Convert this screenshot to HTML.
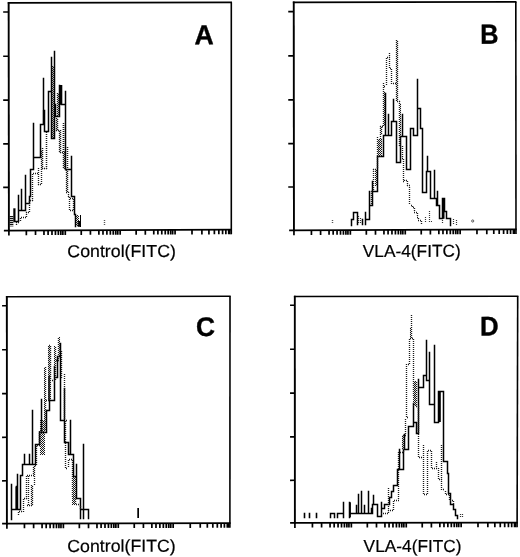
<!DOCTYPE html>
<html><head><meta charset="utf-8"><title>Figure</title>
<style>
html,body{margin:0;padding:0;background:#fff;}
body{width:520px;height:557px;overflow:hidden;font-family:"Liberation Sans",sans-serif;}
svg{display:block;filter:blur(0.3px);}
text{font-family:"Liberation Sans",sans-serif;fill:#111;text-rendering:geometricPrecision;}
.lab{font-size:17.3px;fill:#000;stroke:#000;stroke-width:0.2px;}
.pl{font-size:26px;font-weight:bold;fill:#000;stroke:#000;stroke-width:0.35px;}
</style></head><body>
<svg width="520" height="557" viewBox="0 0 520 557">
<defs>
<pattern id="hx" width="2" height="2" patternUnits="userSpaceOnUse"><rect x="0" y="0" width="1" height="1" fill="#444"/><rect x="1" y="1" width="1" height="1" fill="#444"/></pattern>
<pattern id="hs" width="2" height="2" patternUnits="userSpaceOnUse"><rect x="0" y="0" width="2" height="1.25" fill="#111"/></pattern>
</defs>
<rect width="520" height="557" fill="#fff"/>
<line x1="8.65" y1="2.15" x2="8.9" y2="231.35" stroke="#000" stroke-width="1.9"/>
<line x1="7.75" y1="2.9" x2="232.0" y2="2.3" stroke="#000" stroke-width="1.8"/>
<line x1="231.3" y1="2.3" x2="231.3" y2="234.29999999999998" stroke="#000" stroke-width="1.6"/>
<line x1="3.9000000000000004" y1="230.52" x2="232.0" y2="229.6" stroke="#000" stroke-width="1.75"/>
<line x1="3.1750000000000007" y1="11.969999999999999" x2="8.775" y2="11.95" stroke="#000" stroke-width="1.65"/>
<line x1="3.1750000000000007" y1="56.220000000000006" x2="8.775" y2="56.2" stroke="#000" stroke-width="1.65"/>
<line x1="3.1750000000000007" y1="100.11999999999999" x2="8.775" y2="100.1" stroke="#000" stroke-width="1.65"/>
<line x1="3.1750000000000007" y1="143.92000000000002" x2="8.775" y2="143.9" stroke="#000" stroke-width="1.65"/>
<line x1="3.1750000000000007" y1="187.32000000000002" x2="8.775" y2="187.3" stroke="#000" stroke-width="1.65"/>
<path d="M8.90,230.50v5.0 M26.35,230.43v4.7 M35.52,230.39v4.7 M43.97,230.36v4.7 M48.09,230.34v4.7 M51.99,230.33v4.7 M55.45,230.31v4.7 M58.36,230.30v4.7 M60.83,230.29v4.7 M62.86,230.28v4.7 M65.28,230.27v4.7 M81.25,230.21v4.7 M90.42,230.17v4.7 M98.87,230.14v4.7 M102.99,230.12v4.7 M106.89,230.10v4.7 M110.35,230.09v4.7 M113.26,230.08v4.7 M115.73,230.07v4.7 M117.76,230.06v4.7 M120.17,230.05v4.7 M136.15,229.98v4.7 M145.32,229.95v4.7 M153.77,229.91v4.7 M157.89,229.90v4.7 M161.79,229.88v4.7 M165.25,229.87v4.7 M168.16,229.86v4.7 M170.63,229.85v4.7 M172.66,229.84v4.7 M175.07,229.83v4.7 M192.00,229.76v4.7 M201.90,229.72v4.7 M208.93,229.69v4.7 M214.37,229.67v4.7 M218.83,229.65v4.7 M222.59,229.64v4.7 M225.85,229.62v4.7 M228.73,229.61v4.7 M229.80,229.60v4.7" stroke="#000" stroke-width="1.7" fill="none"/>
<path d="M14.5,221.5H18.5M18.5,195.5V221.5M18.5,210.5H25.5M21.5,189.5V210.5M25.5,175.5V210.5M25.5,203.5H29.5M29.5,196.5V203.5M29.5,196.5H30.5M30.5,169.5V196.5M30.5,169.5H33.5M33.5,123.5V169.5M33.5,157.5H40.5M40.5,124.5V157.5M40.5,124.5H43.5M43.5,78.5V124.5M44.5,110.5V131.5M44.5,131.5H48.5M48.5,91.5V131.5M48.5,91.5H51.5M51.5,57.5V138.5M51.5,138.5H54.5M54.5,51.5V138.5M54.5,104.5H55.5M55.5,104.5V116.5M55.5,116.5H59.5M59.5,85.5V116.5M61.5,104.5H65.5M65.5,91.5V169.5M65.5,169.5H71.5M71.5,156.5V196.5M71.5,196.5H74.5M74.5,196.5V214.5M74.5,214.5H75.5M75.5,214.5V226.5" stroke="#000" stroke-width="1.5" fill="none" stroke-linecap="square"/>
<rect x="59.2" y="85.0" width="3.10" height="19.80" fill="#000"/>
<rect x="13.3" y="208.3" width="2.20" height="13.50" fill="#000"/>
<rect x="42.9" y="110" width="1.80" height="14.60" fill="#000"/>
<rect x="77.7" y="221" width="3.30" height="5.80" fill="#000"/>
<path d="M80.5,215.5V226.5" stroke="#000" stroke-width="1.0" fill="none" stroke-linecap="square"/>
<path d="M16.5,222V226M16,222.5H20M20.5,218V222M21,217.5H26M26.5,212V218M26,212.5H30M29.5,201V212M30,200.5H33M32.5,174V201M33,173.5H38M38.5,168V185M38,184.5H42M41.5,151V185M52.5,66V138M53.5,67V138M57.5,93V117M58.5,94V117M56.5,118V131M56,130.5H59M59.5,131V153M60,152.5H65M63.5,125V153M64.5,154V169M65,169.5H66M66.5,170V192M66,192.5H68M68.5,192V197M68,196.5H70M69.5,197V210M70,210.5H73M73.5,199V210M70,198.5H73" stroke="#1a1a1a" stroke-width="1.35" fill="none" stroke-dasharray="1 1"/>
<rect x="9.6" y="216" width="3.80" height="10.40" fill="url(#hs)"/>
<path d="M57.5,119V131M60.5,130V154M63.5,123V169M67.5,147V192" stroke="#1a1a1a" stroke-width="1.5" fill="none" stroke-dasharray="1 1"/>
<path d="M42.5,148V169M46.5,132V169M42,168.5H47" stroke="#1a1a1a" stroke-width="1.5" fill="none" stroke-dasharray="1 1"/>
<path d="M76.5,216V226M77.5,215V226M78.5,216V226" stroke="#1a1a1a" stroke-width="1.05" fill="none" stroke-dasharray="1 1"/>
<path d="M104.5,220V225" stroke="#555" stroke-width="1.4" fill="none" stroke-dasharray="1 1"/>
<line x1="293.75" y1="1.5499999999999998" x2="293.95" y2="231.15" stroke="#000" stroke-width="1.9"/>
<line x1="292.85" y1="2.3" x2="516.5" y2="1.9" stroke="#000" stroke-width="1.8"/>
<line x1="515.8" y1="1.9" x2="516.0" y2="234.0" stroke="#000" stroke-width="1.6"/>
<line x1="289.15" y1="230.32000000000002" x2="516.7" y2="229.3" stroke="#000" stroke-width="1.75"/>
<line x1="288.25" y1="11.62" x2="293.85" y2="11.6" stroke="#000" stroke-width="1.65"/>
<line x1="288.25" y1="55.92" x2="293.85" y2="55.9" stroke="#000" stroke-width="1.65"/>
<line x1="288.25" y1="99.82" x2="293.85" y2="99.8" stroke="#000" stroke-width="1.65"/>
<line x1="288.25" y1="143.62" x2="293.85" y2="143.6" stroke="#000" stroke-width="1.65"/>
<line x1="288.25" y1="187.02" x2="293.85" y2="187.0" stroke="#000" stroke-width="1.65"/>
<path d="M293.95,230.30v5.0 M311.43,230.22v4.7 M320.59,230.18v4.7 M329.05,230.14v4.7 M333.17,230.12v4.7 M337.06,230.11v4.7 M340.52,230.09v4.7 M343.43,230.08v4.7 M345.90,230.07v4.7 M347.93,230.06v4.7 M350.35,230.05v4.7 M366.33,229.97v4.7 M375.49,229.93v4.7 M383.95,229.89v4.7 M388.07,229.88v4.7 M391.96,229.86v4.7 M395.42,229.84v4.7 M398.33,229.83v4.7 M400.80,229.82v4.7 M402.83,229.81v4.7 M405.25,229.80v4.7 M421.23,229.73v4.7 M430.39,229.69v4.7 M438.85,229.65v4.7 M442.97,229.63v4.7 M446.86,229.61v4.7 M450.32,229.60v4.7 M453.23,229.58v4.7 M455.70,229.57v4.7 M457.73,229.56v4.7 M460.15,229.55v4.7 M476.96,229.48v4.7 M486.80,229.43v4.7 M493.78,229.40v4.7 M499.19,229.38v4.7 M503.61,229.36v4.7 M507.35,229.34v4.7 M510.59,229.32v4.7 M513.44,229.31v4.7 M514.50,229.30v4.7" stroke="#000" stroke-width="1.7" fill="none"/>
<path d="M351.5,219.5V225.5M351.5,219.5H353.5M353.5,212.5V219.5M353.5,212.5H357.5M357.5,212.5V224.5M362.5,219.5V224.5M365.5,212.5V224.5M365.5,219.5H369.5M369.5,191.5V219.5M369.5,205.5H372.5M372.5,181.5V205.5M372.5,191.5H377.5M377.5,156.5V191.5M377.5,156.5H383.5M383.5,135.5V156.5M383.5,135.5H391.5M413.5,135.5H417.5M385.5,93.5V135.5M388.5,114.5V135.5M391.5,121.5V135.5M391.5,121.5H396.5M393.5,99.5V121.5M396.5,121.5V162.5M396.5,162.5H400.5M400.5,136.5V162.5M400.5,136.5H406.5M402.5,114.5V136.5M406.5,136.5V169.5M406.5,169.5H410.5M410.5,128.5V169.5M410.5,128.5H413.5M413.5,128.5V135.5M417.5,79.5V135.5M417.5,108.5H420.5M420.5,108.5V128.5M420.5,128.5H422.5M422.5,128.5V192.5M422.5,192.5H426.5M426.5,171.5V192.5M426.5,171.5H430.5M427.5,156.5V171.5M430.5,171.5V198.5M430.5,198.5H436.5M442.5,198.5H444.5M434.5,170.5V198.5M436.5,198.5V205.5M436.5,205.5H439.5M437.5,191.5V205.5M439.5,205.5V218.5M439.5,218.5H442.5M446.5,218.5H450.5M442.5,198.5V218.5M444.5,198.5V211.5M444.5,211.5H446.5M446.5,211.5V218.5M450.5,218.5V225.5" stroke="#000" stroke-width="1.5" fill="none" stroke-linecap="square"/>
<rect x="442.5" y="198.5" width="2.00" height="20.30" fill="#000"/>
<path d="M332.5,220V224" stroke="#555" stroke-width="1.4" fill="none" stroke-dasharray="1 1"/>
<path d="M371.5,191V205M371,191.5H373M373.5,169V191M373,169.5H377M377.5,137V169M378,150.5H380M380.5,126V150M380,126.5H383M383.5,83V126M384,86.5H386M386.5,58V86M387,57.5H390M389.5,53V69M390,68.5H392M391.5,69V84M393,83.5H396M396.5,40V101M397,101.5H400M399.5,101V146M400,146.5H402M402.5,146V158M402,158.5H403M403.5,159V181M403,181.5H405M404.5,180V181M406,180.5H407M407.5,181V186M407,185.5H410M409.5,187V205M411,205.5H413M412.5,206V208M413,207.5H414M414.5,208V212M414,212.5H417M417.5,213V217M417,217.5H418M418.5,218V220M418,220.5H421M421.5,221V224" stroke="#1a1a1a" stroke-width="1.35" fill="none" stroke-dasharray="1 1"/>
<path d="M397.5,41V101" stroke="#1a1a1a" stroke-width="1.35" fill="none" stroke-dasharray="1 1"/>
<path d="M375.5,171V186M376.5,170V186" stroke="#1a1a1a" stroke-width="1.05" fill="none" stroke-dasharray="1 1"/>
<path d="M378.5,140V157M379.5,139V157M380.5,140V157M381.5,139V157" stroke="#1a1a1a" stroke-width="1.05" fill="none" stroke-dasharray="1 1"/>
<path d="M381.5,127V135M382,126.5H383" stroke="#1a1a1a" stroke-width="1.3" fill="none" stroke-dasharray="1 1"/>
<path d="M383.5,93V126M384.5,92V126" stroke="#1a1a1a" stroke-width="1.05" fill="none" stroke-dasharray="1 1"/>
<path d="M399.5,103V147M400.5,104V147" stroke="#1a1a1a" stroke-width="1.05" fill="none" stroke-dasharray="1 1"/>
<path d="M358.5,216V224M360.5,218V224M425.5,217V223M429.5,211V222M431,221.5H432M453.5,219V225M456.5,220V225M442.5,220V223" stroke="#333" stroke-width="1.2" fill="none" stroke-dasharray="1 1"/>
<circle cx="472.7" cy="221" r="1.1" fill="none" stroke="#333" stroke-width="0.8"/>
<line x1="6.85" y1="295.95" x2="6.9" y2="524.5" stroke="#000" stroke-width="1.9"/>
<line x1="5.949999999999999" y1="296.7" x2="230.7" y2="296.3" stroke="#000" stroke-width="1.6"/>
<line x1="230.0" y1="296.3" x2="229.9" y2="527.8000000000001" stroke="#000" stroke-width="1.6"/>
<line x1="2.1000000000000005" y1="523.67" x2="230.6" y2="523.1" stroke="#000" stroke-width="1.75"/>
<line x1="2.075" y1="305.71999999999997" x2="6.875" y2="305.7" stroke="#000" stroke-width="1.65"/>
<line x1="2.075" y1="349.71999999999997" x2="6.875" y2="349.7" stroke="#000" stroke-width="1.65"/>
<line x1="2.075" y1="393.62" x2="6.875" y2="393.6" stroke="#000" stroke-width="1.65"/>
<line x1="2.075" y1="437.32" x2="6.875" y2="437.3" stroke="#000" stroke-width="1.65"/>
<line x1="2.075" y1="480.82" x2="6.875" y2="480.8" stroke="#000" stroke-width="1.65"/>
<path d="M6.90,523.65v5.0 M24.45,523.61v4.7 M33.62,523.58v4.7 M42.07,523.56v4.7 M46.19,523.55v4.7 M50.09,523.54v4.7 M53.55,523.53v4.7 M56.46,523.53v4.7 M58.93,523.52v4.7 M60.96,523.52v4.7 M63.38,523.51v4.7 M79.35,523.47v4.7 M88.52,523.45v4.7 M96.97,523.43v4.7 M101.09,523.42v4.7 M104.99,523.41v4.7 M108.45,523.40v4.7 M111.36,523.39v4.7 M113.83,523.39v4.7 M115.86,523.38v4.7 M118.27,523.38v4.7 M134.25,523.34v4.7 M143.42,523.31v4.7 M151.87,523.29v4.7 M155.99,523.28v4.7 M159.89,523.27v4.7 M163.35,523.26v4.7 M166.26,523.26v4.7 M168.73,523.25v4.7 M170.76,523.25v4.7 M173.17,523.24v4.7 M190.25,523.20v4.7 M200.24,523.17v4.7 M207.33,523.16v4.7 M212.82,523.14v4.7 M217.32,523.13v4.7 M221.11,523.12v4.7 M224.40,523.11v4.7 M227.30,523.11v4.7 M228.40,523.10v4.7" stroke="#000" stroke-width="1.7" fill="none"/>
<path d="M11.5,484.5V519.5M11.5,509.5H20.5M80.5,509.5H88.5M16.5,486.5V509.5M17.5,474.5V509.5M20.5,475.5V509.5M20.5,475.5H22.5M22.5,464.5V475.5M22.5,464.5H35.5M24.5,454.5V464.5M29.5,454.5V464.5M32.5,410.5V464.5M35.5,444.5V464.5M35.5,444.5H39.5M39.5,432.5V444.5M39.5,432.5H46.5M41.5,399.5V432.5M46.5,410.5V432.5M46.5,410.5H49.5M49.5,400.5V410.5M49.5,400.5H54.5M54.5,366.5V400.5M54.5,377.5H57.5M57.5,356.5V377.5M57.5,356.5H60.5M60.5,343.5V356.5M60.5,356.5V420.5M60.5,420.5H64.5M64.5,388.5V442.5M64.5,442.5H68.5M68.5,442.5V454.5M68.5,454.5H73.5M70.5,420.5V454.5M73.5,454.5V476.5M73.5,476.5H76.5M76.5,464.5V498.5M76.5,498.5H80.5M80.5,498.5V518.5M83.5,444.5V518.5M88.5,509.5V518.5" stroke="#000" stroke-width="1.5" fill="none" stroke-linecap="square"/>
<rect x="15.5" y="486.6" width="1.50" height="22.50" fill="#000"/>
<rect x="48.3" y="375.8" width="1.50" height="24.80" fill="#000"/>
<rect x="137.3" y="508" width="1.70" height="10.00" fill="#000"/>
<path d="M18.5,512V516M19,511.5H23M23.5,499V512M24,498.5H27M26.5,476V499M27,475.5H34M33.5,467V475M35,465.5H36M36.5,446V466M37,445.5H40M39.5,431V445M40,430.5H45M45.5,367V430M46,400.5H49M49.5,347V400M49,345.5H51M50.5,346V380M52,380.5H55M55.5,347V380M56,360.5H59M58.5,338V360M60,350.5H62M61.5,351V378M64.5,374V420M66,420.5H67M65.5,421V468M66,468.5H68M68.5,460V468M69,459.5H72M72.5,460V498M73,497.5H76M75.5,499V505M76,504.5H80M80.5,506V510" stroke="#1a1a1a" stroke-width="1.35" fill="none" stroke-dasharray="1 1"/>
<path d="M28.5,476V505M31.5,485V506M32.5,486V506M34.5,466V485M27,505.5H33" stroke="#1a1a1a" stroke-width="1.3" fill="none" stroke-dasharray="1 1"/>
<path d="M40.5,420V455M41.5,421V455M42.5,420V455M43.5,421V455M44.5,420V455" stroke="#1a1a1a" stroke-width="1.05" fill="none" stroke-dasharray="1 1"/>
<path d="M44.5,368V420M45.5,367V420" stroke="#1a1a1a" stroke-width="1.05" fill="none" stroke-dasharray="1 1"/>
<path d="M48.5,346V400M49.5,347V400M50.5,346V400" stroke="#1a1a1a" stroke-width="1.05" fill="none" stroke-dasharray="1 1"/>
<path d="M54.5,346V376M55.5,347V376" stroke="#1a1a1a" stroke-width="1.05" fill="none" stroke-dasharray="1 1"/>
<path d="M58.5,338V356M59.5,337V356" stroke="#1a1a1a" stroke-width="1.05" fill="none" stroke-dasharray="1 1"/>
<path d="M72.5,476V505M73.5,477V505M74.5,476V505M75.5,477V505" stroke="#1a1a1a" stroke-width="1.05" fill="none" stroke-dasharray="1 1"/>
<line x1="294.8" y1="295.75" x2="294.9" y2="523.75" stroke="#000" stroke-width="1.9"/>
<line x1="293.90000000000003" y1="296.5" x2="518.4000000000001" y2="296.3" stroke="#000" stroke-width="1.6"/>
<line x1="517.7" y1="296.3" x2="517.1" y2="527.25" stroke="#000" stroke-width="1.6"/>
<line x1="290.09999999999997" y1="522.92" x2="517.8000000000001" y2="522.55" stroke="#000" stroke-width="1.75"/>
<line x1="290.05" y1="305.21999999999997" x2="294.85" y2="305.2" stroke="#000" stroke-width="1.65"/>
<line x1="290.05" y1="349.21999999999997" x2="294.85" y2="349.2" stroke="#000" stroke-width="1.65"/>
<line x1="290.05" y1="393.12" x2="294.85" y2="393.1" stroke="#000" stroke-width="1.65"/>
<line x1="290.05" y1="436.91999999999996" x2="294.85" y2="436.9" stroke="#000" stroke-width="1.65"/>
<line x1="290.05" y1="480.32" x2="294.85" y2="480.3" stroke="#000" stroke-width="1.65"/>
<path d="M294.90,522.90v5.0 M312.43,522.87v4.7 M321.59,522.86v4.7 M330.05,522.84v4.7 M334.17,522.84v4.7 M338.06,522.83v4.7 M341.52,522.83v4.7 M344.43,522.82v4.7 M346.90,522.82v4.7 M348.93,522.81v4.7 M351.35,522.81v4.7 M367.33,522.79v4.7 M376.49,522.77v4.7 M384.95,522.76v4.7 M389.07,522.75v4.7 M392.96,522.75v4.7 M396.42,522.74v4.7 M399.33,522.74v4.7 M401.80,522.73v4.7 M403.83,522.73v4.7 M406.25,522.72v4.7 M422.23,522.70v4.7 M431.39,522.69v4.7 M439.85,522.67v4.7 M443.97,522.67v4.7 M447.86,522.66v4.7 M451.32,522.65v4.7 M454.23,522.65v4.7 M456.70,522.65v4.7 M458.73,522.64v4.7 M461.15,522.64v4.7 M477.99,522.61v4.7 M487.84,522.60v4.7 M494.84,522.59v4.7 M500.26,522.58v4.7 M504.69,522.57v4.7 M508.43,522.56v4.7 M511.68,522.56v4.7 M514.54,522.55v4.7 M515.60,522.55v4.7" stroke="#000" stroke-width="1.7" fill="none"/>
<path d="M304.5,513.5V517.5M309.5,513.5V517.5M316.5,513.5V517.5" stroke="#000" stroke-width="1.6" fill="none" stroke-linecap="square"/>
<path d="M330.5,513.5V517.5M330.5,513.5H334.5M334.5,513.5V517.5M337.5,513.5V517.5M337.5,513.5H343.5M349.5,513.5H372.5M343.5,502.5V517.5M349.5,502.5V517.5M356.5,505.5V513.5M358.5,494.5V513.5M361.5,491.5V513.5M364.5,505.5V513.5M368.5,491.5V513.5M371.5,508.5V513.5M372.5,504.5V513.5M372.5,504.5H377.5M384.5,504.5H389.5M373.5,495.5V504.5M377.5,504.5V516.5M377.5,516.5H381.5M381.5,502.5V516.5M381.5,508.5H384.5M384.5,504.5V508.5M389.5,497.5V504.5M389.5,497.5H391.5M391.5,491.5V497.5M391.5,491.5H393.5M393.5,485.5V491.5M393.5,485.5H397.5M397.5,469.5V485.5M397.5,469.5H403.5M399.5,449.5V469.5M403.5,449.5V469.5M403.5,449.5H408.5M404.5,434.5V449.5M408.5,426.5V449.5M408.5,426.5H413.5M413.5,403.5V426.5M413.5,422.5H416.5M434.5,422.5H438.5M416.5,422.5V433.5M416.5,433.5H418.5M418.5,379.5V433.5M418.5,387.5H423.5M423.5,375.5V387.5M423.5,375.5H426.5M426.5,340.5V380.5M426.5,380.5H429.5M429.5,352.5V404.5M429.5,404.5H434.5M434.5,345.5V404.5M434.5,403.5H434.5M434.5,403.5V422.5M438.5,391.5V422.5M438.5,391.5H443.5M443.5,391.5V461.5M443.5,461.5H447.5M447.5,461.5V473.5M447.5,473.5H448.5M448.5,473.5V493.5M448.5,493.5H450.5M450.5,493.5V504.5M450.5,504.5H453.5M453.5,504.5V509.5M453.5,509.5H455.5M455.5,509.5V515.5M455.5,515.5H457.5M457.5,515.5V518.5" stroke="#000" stroke-width="1.5" fill="none" stroke-linecap="square"/>
<rect x="438.6" y="391.3" width="2.20" height="30.70" fill="#000"/>
<rect x="349.4" y="502.3" width="1.50" height="15.00" fill="#000"/>
<path d="M381,513.5H388M388.5,488V514M388,510.5H394M393.5,501V510M394,500.5H399M450,500.5H454M398.5,452V500M400,452.5H403M403.5,435V452M403,435.5H406M405.5,419V435M407,417.5H408M406.5,364V418M408,364.5H410M409.5,339V364M410,338.5H413M411.5,315V338M413.5,339V396M414,396.5H416M416.5,382V406M416,406.5H418M418.5,406V457M419,457.5H423M423.5,445V494M424,494.5H428M446,494.5H450M427.5,451V494M428,450.5H431M431.5,451V468M432,468.5H438M436.5,462V468M438.5,468V480M439,479.5H442M441.5,445V490M443,489.5H445M445.5,491V494M449.5,495V500M453.5,501V505" stroke="#1a1a1a" stroke-width="1.35" fill="none" stroke-dasharray="1 1"/>
<path d="M410.5,328V339M411.5,329V339" stroke="#1a1a1a" stroke-width="1.05" fill="none" stroke-dasharray="1 1"/>
<path d="M413.5,381V406M414.5,382V406M415.5,381V406M416.5,382V406" stroke="#1a1a1a" stroke-width="1.05" fill="none" stroke-dasharray="1 1"/>
<path d="M402.5,436V449M403.5,435V449" stroke="#1a1a1a" stroke-width="1.05" fill="none" stroke-dasharray="1 1"/>
<path d="M460.5,514V518M462.5,514V518" stroke="#333" stroke-width="1.2" fill="none" stroke-dasharray="1 1"/>
<text class="pl" transform="translate(194.4,44.3) rotate(-0.2) scale(1.025,1.05)">A</text>
<text class="pl" transform="translate(480.2,43.75) rotate(-0.2) scale(0.975,1.063)">B</text>
<text class="pl" transform="translate(196.05,336.1) rotate(-0.2) scale(1.015,1.035)">C</text>
<text class="pl" transform="translate(480.0,335.5) rotate(-0.2) scale(0.995,1.04)">D</text>
<text class="lab" transform="translate(67.3,257.15) rotate(-0.15)" textLength="108.6" lengthAdjust="spacingAndGlyphs">Control(FITC)</text>
<text class="lab" transform="translate(362.8,257.05) rotate(-0.15)">VLA-4(FITC)</text>
<text class="lab" transform="translate(67.3,551.95) rotate(-0.15)" textLength="108.4" lengthAdjust="spacingAndGlyphs">Control(FITC)</text>
<text class="lab" transform="translate(363.6,552.1) rotate(-0.15)">VLA-4(FITC)</text>
</svg>
</body></html>
